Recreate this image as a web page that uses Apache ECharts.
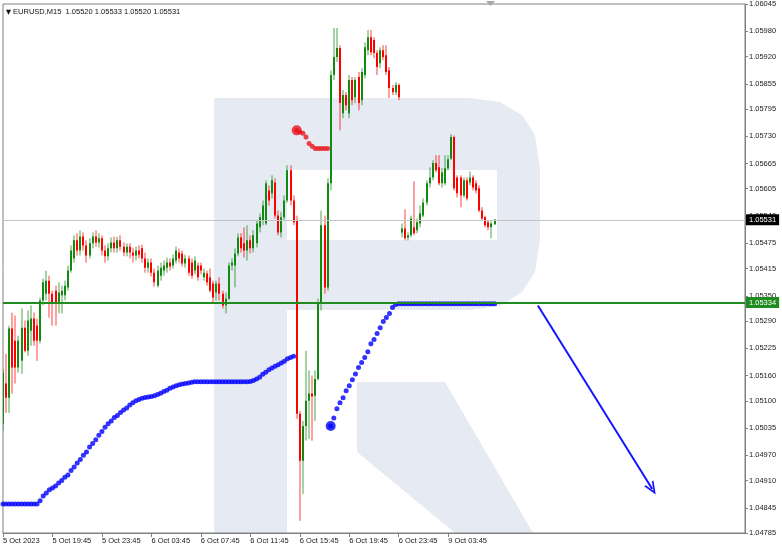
<!DOCTYPE html>
<html><head><meta charset="utf-8">
<script src="https://cdn.jsdelivr.net/npm/echarts@6/dist/echarts.min.js"></script>
<style>html,body{margin:0;padding:0;background:#fff}#c{width:782px;height:551px}</style>
</head><body><div id="c"></div>
<script>
const tickLabels = ['5 Oct 2023','5 Oct 19:45','5 Oct 23:45','6 Oct 03:45','6 Oct 07:45','6 Oct 11:45','6 Oct 15:45','6 Oct 19:45','6 Oct 23:45','9 Oct 03:45'];
const yLabels = [1.06045,1.05980,1.05920,1.05855,1.05795,1.05730,1.05665,1.05605,1.05540,1.05475,1.05415,1.05350,1.05290,1.05225,1.05160,1.05100,1.05035,1.04970,1.04910,1.04845,1.04785];
const titleText = 'EURUSD,M15  1.05520 1.05533 1.05520 1.05531';
const barCount = 241;
const opens = [
1.05045,1.05141,1.05107,1.05272,1.05243,1.05179,1.05195,1.05274,1.05219,1.05267,
1.05296,1.05279,1.05243,1.05339,1.05355,1.05386,1.05355,1.05362,1.05331,1.05351,
1.05351,1.05370,1.05410,1.05439,1.05482,1.05458,1.05491,1.05470,1.05446,1.05475,
1.05491,1.05477,1.05487,1.05458,1.05444,1.05463,1.05477,1.05463,1.05482,1.05467,
1.05453,1.05467,1.05453,1.05446,1.05458,1.05463,1.05439,1.05417,1.05429,1.05405,
1.05374,1.05398,1.05410,1.05417,1.05429,1.05422,1.05434,1.05453,1.05451,1.05427,
1.05439,1.05429,1.05410,1.05422,1.05422,1.05394,1.05403,1.05394,1.05379,1.05358,
1.05379,1.05355,1.05327,1.05343,1.05422,1.05422,1.05451,1.05489,1.05475,1.05458,
1.05482,1.05463,1.05475,1.05513,1.05530,1.05522,1.05601,1.05594,1.05620,1.05541,
1.05501,1.05537,1.05577,1.05649,1.05577,1.05530,1.05069,1.04957,1.05040,1.05100,
1.05117,1.05112,1.05152,1.05331,1.05518,1.05370,1.05618,1.05876,1.05919,1.05940,
1.05785,1.05828,1.05785,1.05864,1.05823,1.05871,1.05816,1.05876,1.05935,1.05966,
1.05959,1.05928,1.05904,1.05935,1.05923,1.05887,1.05845,1.05835,1.05852,1.05501,
1.05510,1.05489,1.05494,1.05513,1.05506,1.05522,1.05541,1.05572,1.05618,1.05632,
1.05666,1.05656,1.05618,1.05618,1.05654,1.05677,1.05728,1.05632,1.05632,1.05589,
1.05625,1.05620,1.05632,1.05618,1.05606,1.05553,1.05537,1.05525,1.05513,1.05520];
const highs = [
1.05176,1.05212,1.05279,1.05310,1.05303,1.05255,1.05320,1.05291,1.05315,1.05327,
1.05310,1.05296,1.05346,1.05391,1.05410,1.05398,1.05362,1.05374,1.05382,1.05374,
1.05386,1.05422,1.05470,1.05494,1.05499,1.05506,1.05501,1.05482,1.05487,1.05501,
1.05506,1.05499,1.05494,1.05470,1.05475,1.05489,1.05491,1.05491,1.05494,1.05477,
1.05475,1.05475,1.05465,1.05467,1.05470,1.05472,1.05453,1.05439,1.05439,1.05415,
1.05422,1.05429,1.05434,1.05441,1.05439,1.05448,1.05467,1.05463,1.05458,1.05448,
1.05446,1.05439,1.05444,1.05429,1.05429,1.05415,1.05410,1.05415,1.05386,1.05386,
1.05394,1.05362,1.05358,1.05429,1.05439,1.05463,1.05499,1.05499,1.05513,1.05518,
1.05494,1.05506,1.05530,1.05546,1.05577,1.05625,1.05613,1.05637,1.05630,1.05553,
1.05549,1.05589,1.05661,1.05661,1.05589,1.05541,1.05076,1.05052,1.05219,1.05172,
1.05160,1.05172,1.05343,1.05553,1.05541,1.05630,1.05887,1.05988,1.05988,1.05947,
1.05840,1.05835,1.05876,1.05871,1.05871,1.05883,1.05892,1.05954,1.05983,1.05983,
1.05966,1.05935,1.05942,1.05947,1.05947,1.05895,1.05852,1.05859,1.05856,1.05522,
1.05556,1.05501,1.05541,1.05623,1.05534,1.05565,1.05582,1.05625,1.05656,1.05673,
1.05685,1.05685,1.05654,1.05685,1.05685,1.05735,1.05732,1.05637,1.05637,1.05632,
1.05632,1.05646,1.05637,1.05625,1.05613,1.05561,1.05541,1.05530,1.05527,1.05533];
const lows = [
1.05028,1.05071,1.05071,1.05117,1.05141,1.05167,1.05164,1.05215,1.05207,1.05231,
1.05231,1.05195,1.05236,1.05327,1.05339,1.05298,1.05279,1.05279,1.05308,1.05308,
1.05339,1.05362,1.05405,1.05429,1.05446,1.05446,1.05458,1.05429,1.05439,1.05463,
1.05467,1.05465,1.05446,1.05429,1.05434,1.05453,1.05453,1.05453,1.05458,1.05444,
1.05444,1.05439,1.05429,1.05434,1.05439,1.05429,1.05405,1.05405,1.05396,1.05372,
1.05370,1.05386,1.05398,1.05405,1.05410,1.05415,1.05427,1.05429,1.05420,1.05417,
1.05398,1.05391,1.05401,1.05386,1.05401,1.05386,1.05374,1.05358,1.05334,1.05339,
1.05339,1.05320,1.05308,1.05339,1.05410,1.05370,1.05444,1.05453,1.05441,1.05434,
1.05451,1.05453,1.05465,1.05501,1.05518,1.05518,1.05565,1.05582,1.05534,1.05494,
1.05489,1.05530,1.05572,1.05565,1.05518,1.05057,1.04814,1.04878,1.05005,1.05009,
1.05005,1.05052,1.05148,1.05315,1.05355,1.05362,1.05601,1.05864,1.05907,1.05744,
1.05773,1.05792,1.05773,1.05804,1.05809,1.05792,1.05804,1.05868,1.05923,1.05923,
1.05916,1.05876,1.05892,1.05911,1.05876,1.05821,1.05828,1.05828,1.05816,1.05489,
1.05482,1.05482,1.05489,1.05494,1.05499,1.05513,1.05537,1.05565,1.05608,1.05625,
1.05644,1.05613,1.05608,1.05613,1.05649,1.05673,1.05601,1.05584,1.05561,1.05584,
1.05577,1.05613,1.05601,1.05594,1.05549,1.05530,1.05513,1.05506,1.05487,1.05520];
const closes = [
1.05167,1.05107,1.05272,1.05179,1.05179,1.05243,1.05274,1.05219,1.05291,1.05296,
1.05243,1.05243,1.05339,1.05382,1.05386,1.05355,1.05331,1.05331,1.05358,1.05362,
1.05374,1.05410,1.05458,1.05482,1.05458,1.05491,1.05470,1.05446,1.05475,1.05491,
1.05477,1.05487,1.05458,1.05444,1.05463,1.05477,1.05463,1.05482,1.05467,1.05453,
1.05467,1.05453,1.05446,1.05458,1.05448,1.05439,1.05417,1.05429,1.05405,1.05382,
1.05410,1.05417,1.05422,1.05429,1.05420,1.05439,1.05458,1.05439,1.05427,1.05439,
1.05405,1.05398,1.05434,1.05394,1.05410,1.05405,1.05382,1.05362,1.05346,1.05379,
1.05355,1.05327,1.05343,1.05422,1.05429,1.05451,1.05489,1.05463,1.05458,1.05482,
1.05463,1.05494,1.05522,1.05537,1.05565,1.05618,1.05577,1.05625,1.05541,1.05501,
1.05537,1.05577,1.05649,1.05577,1.05525,1.05069,1.04957,1.05040,1.05100,1.05117,
1.05110,1.05152,1.05331,1.05518,1.05370,1.05618,1.05876,1.05919,1.05940,1.05809,
1.05828,1.05804,1.05864,1.05816,1.05864,1.05809,1.05883,1.05942,1.05966,1.05930,
1.05928,1.05895,1.05935,1.05919,1.05883,1.05845,1.05835,1.05852,1.05823,1.05510,
1.05487,1.05494,1.05534,1.05499,1.05525,1.05546,1.05572,1.05618,1.05632,1.05666,
1.05649,1.05618,1.05644,1.05654,1.05675,1.05728,1.05606,1.05594,1.05589,1.05625,
1.05582,1.05632,1.05608,1.05601,1.05553,1.05534,1.05518,1.05513,1.05522,1.05531];
const blueDots = [
1.04854,1.04854,1.04854,1.04854,1.04854,1.04854,1.04854,1.04854,1.04854,1.04854,
1.04854,1.04854,1.04862,1.04873,1.04880,1.04888,1.04892,1.04897,1.04904,1.04910,
1.04918,1.04923,1.04934,1.04942,1.04952,1.04960,1.04970,1.04978,1.04990,1.04998,
1.05007,1.05018,1.05027,1.05037,1.05045,1.05052,1.05060,1.05065,1.05072,1.05078,
1.05083,1.05090,1.05095,1.05100,1.05103,1.05106,1.05108,1.05109,1.05110,1.05112,
1.05115,1.05118,1.05122,1.05125,1.05130,1.05133,1.05136,1.05138,1.05140,1.05141,
1.05142,1.05144,1.05145,1.05145,1.05145,1.05145,1.05145,1.05145,1.05145,1.05145,
1.05145,1.05145,1.05145,1.05145,1.05145,1.05145,1.05145,1.05145,1.05145,1.05145,
1.05146,1.05148,1.05152,1.05156,1.05163,1.05168,1.05174,1.05178,1.05182,1.05186,
1.05190,1.05194,1.05200,1.05203,1.05206,null,null,null,null,null,
null,null,null,null,null,null,1.05040,1.05059,1.05081,1.05095,
1.05107,1.05124,1.05136,1.05150,1.05164,1.05179,1.05191,1.05203,1.05217,1.05236,
1.05246,1.05260,1.05274,1.05289,1.05298,1.05308,1.05322,1.05329,1.05331,1.05331,
1.05331,1.05331,1.05331,1.05331,1.05331,1.05331,1.05331,1.05331,1.05331,1.05331,
1.05331,1.05331,1.05331,1.05331,1.05331,1.05331,1.05331,1.05331,1.05331,1.05331,
1.05331,1.05331,1.05331,1.05331,1.05331,1.05331,1.05331,1.05331,1.05331,1.05331];
const redDots = [[95,1.05744],[96,1.05740],[97,1.05737],[98,1.05728],[99,1.05713],[100,1.05706],[101,1.05701],[102,1.05701],[103,1.05701],[104,1.05701],[105,1.05701]];
const bigRedDot = [95, 1.05744];
const bigBlueDot = [106, 1.05040];
const levelPrice = 1.05334;
const lastPrice = 1.05531;
const arrowFrom = [173, 1.05327];
const arrowTo = [210, 1.04890];

const F = "'Liberation Sans',Arial,sans-serif";
const FS = 7.5;
const UP = '#128a12', DN = '#ff0000';
const WM = '#e6ebf3';
const cats = Array.from({length: barCount}, (_, i) => String(i));
const candleData = opens.map((o, i) => [i, o, highs[i], lows[i], closes[i]]);
const blueData = [];
blueDots.forEach((v, i) => { if (v !== null) blueData.push([i, v]); });
const showTick = (i) => i % 16 === 0 && i / 16 < tickLabels.length;

const chart = echarts.init(document.getElementById('c'), null, {renderer: 'canvas'});
chart.setOption({
  animation: false,
  backgroundColor: '#ffffff',
  title: {
    text: '{t|▼} ' + titleText, left: 1, top: 3,
    textStyle: {fontSize: FS, fontWeight: 'normal', color: '#111', fontFamily: F,
      rich: {t: {fontSize: 6.5, color: '#111', fontFamily: 'DejaVu Sans'}}}
  },
  graphic: [
    {type: 'polygon', z: -10, silent: true,
      shape: {points: [[214,98],[470,98],[500,102],[522,115],[535,135],[540,168],[540,240],[535,272],[522,292],[500,306],[470,310],[287,310],[287,533],[214,533]]},
      style: {fill: WM}},
    {type: 'rect', z: -9, silent: true, shape: {x: 287, y: 170, width: 210, height: 70}, style: {fill: '#ffffff'}},
    {type: 'polygon', z: -10, silent: true,
      shape: {points: [[357,382],[445,382],[533,533],[455,533],[357,452]]},
      style: {fill: WM}},
    {type: 'polygon', z: 10, silent: true,
      shape: {points: [[486,1],[495,1],[490.5,6]]}, style: {fill: '#a8a8a8'}}
  ],
  grid: {left: 3, right: 37, top: 4, bottom: 18, show: true, borderColor: '#808080', borderWidth: 1, backgroundColor: 'transparent'},
  xAxis: {
    type: 'category', data: cats, boundaryGap: false,
    axisLine: {show: true, lineStyle: {color: '#808080'}},
    axisTick: {show: true, interval: showTick, length: 4, lineStyle: {color: '#808080'}},
    axisLabel: {interval: showTick, formatter: (v) => tickLabels[Number(v) / 16], align: 'left',
      margin: 4, fontSize: FS, color: '#1a1a1a', fontFamily: F},
    splitLine: {show: false}
  },
  yAxis: {
    type: 'value', position: 'right', min: 1.04785, max: 1.06045, scale: true,
    axisLine: {show: true, lineStyle: {color: '#808080'}},
    axisTick: {show: true, customValues: yLabels, length: 3, lineStyle: {color: '#808080'}},
    axisLabel: {customValues: yLabels, formatter: (v) => v.toFixed(5), fontSize: FS, color: '#1a1a1a', margin: 4, fontFamily: F},
    splitLine: {show: false}
  },
  series: [
    {
      type: 'custom', name: 'EURUSD', z: 2, data: candleData, clip: true,
      renderItem: function (params, api) {
        const i = api.value(0), o = api.value(1), h = api.value(2), l = api.value(3), c = api.value(4);
        const pO = api.coord([i, o]), pC = api.coord([i, c]), pH = api.coord([i, h]), pL = api.coord([i, l]);
        const x = Math.round(pO[0]);
        const col = c >= o ? UP : DN;
        const top = Math.min(pO[1], pC[1]), bot = Math.max(pO[1], pC[1]);
        return {type: 'group', children: [
          {type: 'line', shape: {x1: x, y1: pH[1], x2: x, y2: pL[1]}, style: {stroke: col, lineWidth: 1, opacity: 0.75}},
          {type: 'rect', shape: {x: x - 1, y: top, width: 2, height: Math.max(1, bot - top)}, style: {fill: col}}
        ]};
      }
    },
    {
      type: 'scatter', name: 'blue', z: 3, data: blueData, symbolSize: 5,
      itemStyle: {color: '#0000ff'},
      markLine: {
        silent: true, symbol: ['none', 'none'], animation: false, precision: 5,
        data: [
          {yAxis: lastPrice, lineStyle: {color: '#c4c4c4', width: 1, type: 'solid'},
            label: {show: true, position: 'end', distance: 1, formatter: lastPrice.toFixed(5), color: '#fff',
              backgroundColor: '#000', padding: [2, 3, 1, 3], fontSize: FS, fontFamily: F}},
          {yAxis: levelPrice, lineStyle: {color: '#1e8c1e', width: 2, type: 'solid'},
            label: {show: true, position: 'end', distance: 1, formatter: levelPrice.toFixed(5), color: '#fff',
              backgroundColor: '#1e8c1e', padding: [2, 3, 1, 3], fontSize: FS, fontFamily: F}},
          [{coord: arrowFrom, symbol: 'none'},
           {coord: arrowTo, symbol: 'path://M5,0 L10,11 L8.3,11 L5,3.6 L1.7,11 L0,11 Z', symbolSize: [11, 13],
            lineStyle: {color: '#1414ff', width: 2, type: 'solid'}, label: {show: false}}]
        ],
        lineStyle: {color: '#1414ff', width: 2, type: 'solid'},
        label: {show: false}
      }
    },
    {type: 'scatter', name: 'red', z: 3, data: redDots, symbolSize: 5, itemStyle: {color: '#e8141e'}},
    {type: 'scatter', name: 'bigRed', z: 4, data: [bigRedDot], symbolSize: 10, itemStyle: {color: '#e8141e'}},
    {type: 'scatter', name: 'bigBlue', z: 4, data: [bigBlueDot], symbolSize: 10, itemStyle: {color: '#0000ff'}}
  ]
});
</script>
</body></html>
